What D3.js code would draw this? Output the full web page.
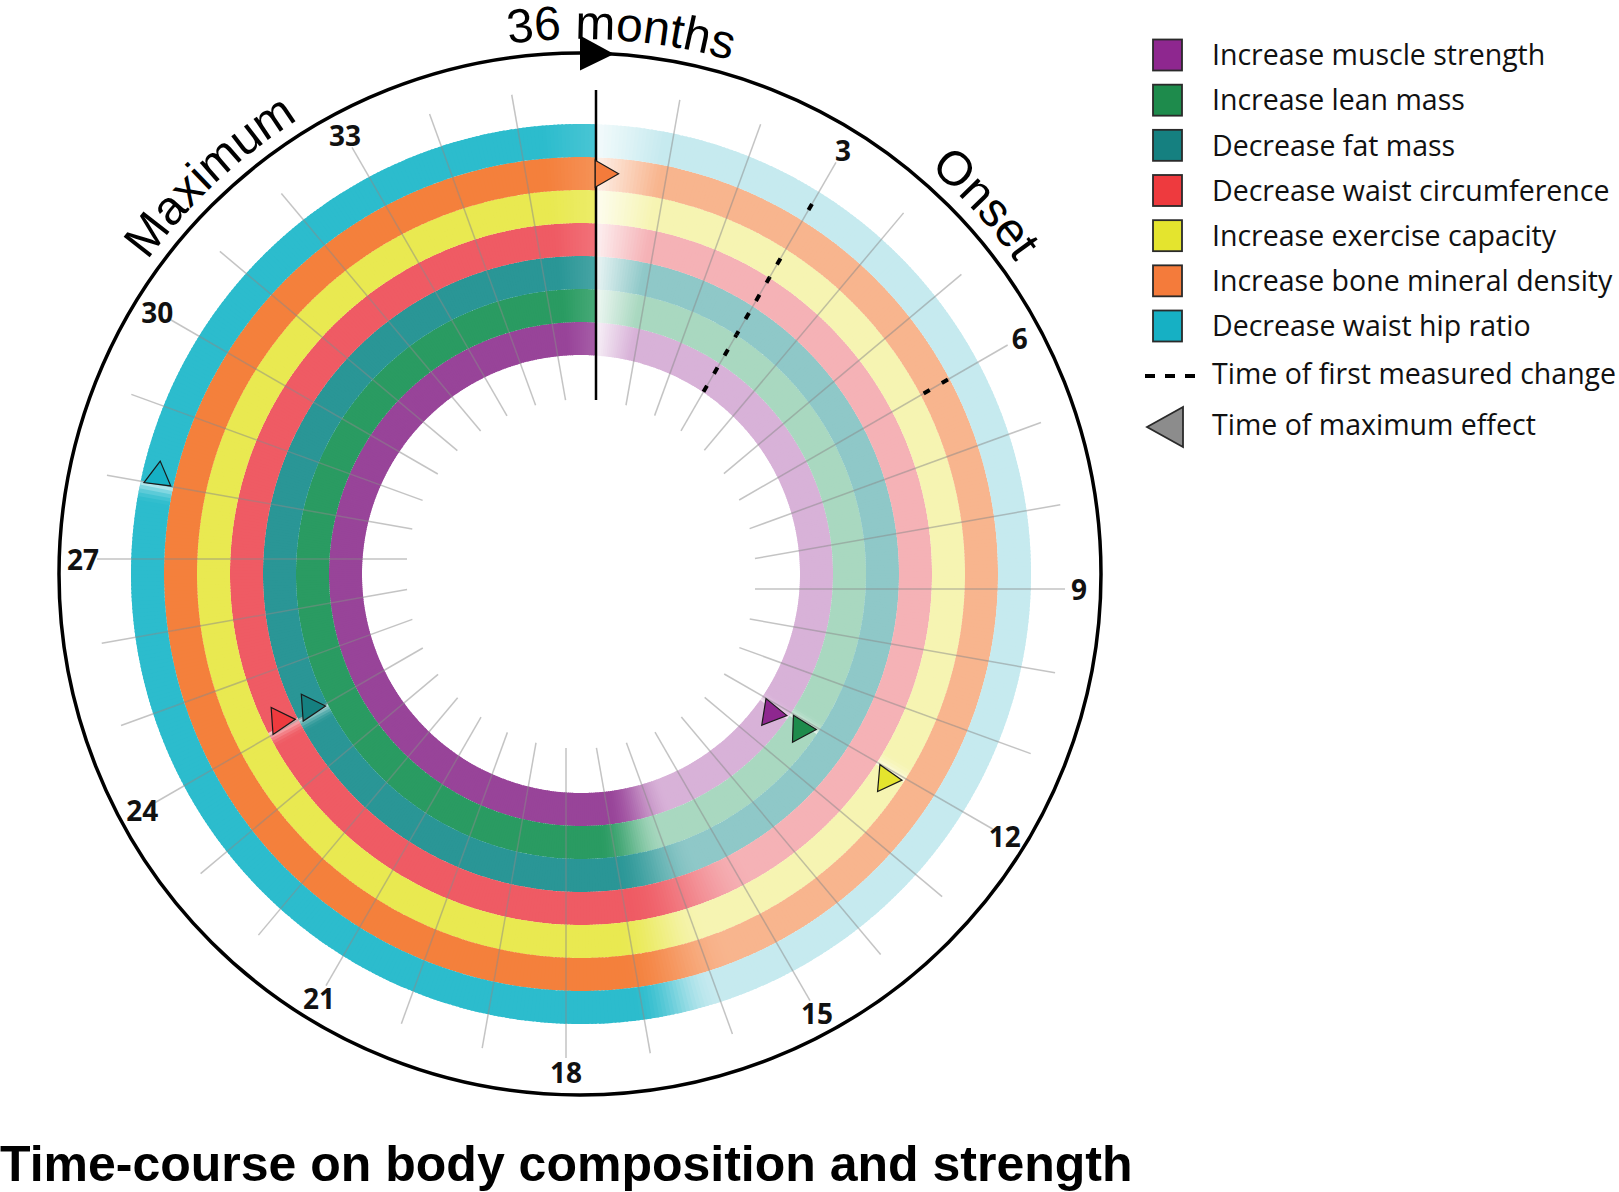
<!DOCTYPE html>
<html><head><meta charset="utf-8">
<script src="https://cdn.jsdelivr.net/npm/d3@7"></script>
<style>html,body{margin:0;padding:0;background:#fff;} svg{display:block}</style>
</head><body>
<svg id="chart" width="1619" height="1192"></svg>
<script>
// ---------------- data ----------------
const categories = ["Increase muscle strength","Increase lean mass","Decrease fat mass",
  "Decrease waist circumference","Increase exercise capacity","Increase bone mineral density",
  "Decrease waist hip ratio"];
const firstChangeMonth = [3, 3, 3, 3, 3, 6, 3];
const maxEffectMonth   = [12.25, 12.2, 24.1, 24.15, 12.15, 0.1, 28.1];
const transitionStart  = [15.5, 15.9, 15.5, 14.75, 15.8, 15.6, 16.0];
const transitionEnd    = [17.0, 17.3, 17.1, 16.95, 17.2, 17.2, 17.1];
const tickMonths  = d3.range(0, 36);
const labelMonths = [3, 6, 9, 12, 15, 18, 21, 24, 27, 30, 33];
const arcLabels      = ["36 months", "Onset", "Maximum"];
const arcLabelMonths = [0.42, 4.75, 31.7];
const legendExtra = ["Time of first measured change", "Time of maximum effect"];
const titleText = "Time-course on body composition and strength";

// ---------------- style ----------------
const fullColors   = ["#984499","#2a9b62","#2a9696","#ef5b64","#e9e951","#f4803c","#2cbccd"];
const lightColors  = ["#d8b2d8","#a9d8c0","#8fc8c8","#f5b2b6","#f6f4b2","#f8b58e","#c6eaef"];
const markerColors = ["#8e278f","#1e8b4c","#158080","#ee3a3e","#e4e42e","#f47b3b","#16b0c4"];
const markerRotation = [9, 2, -4, -4, 5, 0, -83];

const W = 1619, H = 1192;
const cx = 581, cy = 574;
const ringInner = 219, ringOuter = 450;
const tickInner = 174, tickOuter = 484, tickShift = 15;
const circleR = 521, labelR = 498, arcTextR = 535;

const svg = d3.select("#chart");
const angle = d3.scaleLinear().domain([0, 36]).range([0, 2 * Math.PI]);
const ring = d3.scaleBand().domain(d3.range(categories.length)).range([ringInner, ringOuter]).padding(0);

function pt(month, r, shift) {
  const a = angle(month);
  const s = shift || 0;
  return [cx + r * Math.sin(a) + s * Math.cos(a), cy - r * Math.cos(a) + s * Math.sin(a)];
}

function ringColor(i, m) {
  const light = lightColors[i], full = fullColors[i];
  let c;
  const fadeIn = 0.9;
  if (m < fadeIn) c = d3.interpolateRgb("#ffffff", light)(0.2 + 0.8 * m / fadeIn);
  else if (m < transitionStart[i]) c = light;
  else if (m < transitionEnd[i]) {
    const t = (m - transitionStart[i]) / (transitionEnd[i] - transitionStart[i]);
    c = d3.interpolateRgb(light, full)(t * t * (3 - 2 * t));
  } else if (m < 35.3) c = full;
  else c = d3.interpolateRgb(full, "#ffffff")(0.14 * (m - 35.3) / 0.7);
  const g1 = maxEffectMonth[i] - 0.08, g0 = maxEffectMonth[i] - 0.38;
  if (m > g0 && m < g1) {
    const w = 0.85 * Math.pow((m - g0) / (g1 - g0), 2);
    c = d3.interpolateRgb(c, "#ffffff")(w);
  }
  return c;
}

// ---------------- rings ----------------
const step = 0.05;
const segMonths = d3.range(0, 36, step);
const arcGen = d3.arc();
const gRings = svg.append("g").attr("transform", `translate(${cx},${cy})`);
categories.forEach((cat, i) => {
  const r0 = ring(i), r1 = ring(i) + ring.bandwidth();
  const rot = Math.asin(tickShift / ((r0 + r1) / 2));   // align ring start with the shifted month lines
  gRings.append("g").selectAll("path").data(segMonths).join("path")
    .attr("d", m => arcGen({innerRadius: r0, outerRadius: r1,
       startAngle: angle(m) + rot, endAngle: Math.min(angle(m + step) + 0.004, angle(36)) + rot}))
    .attr("fill", m => ringColor(i, m + step / 2));
});

// ---------------- tick lines ----------------
const gTicks = svg.append("g");
gTicks.selectAll("line").data(tickMonths).join("line")
  .attr("x1", m => pt(m, tickInner, tickShift)[0]).attr("y1", m => pt(m, tickInner, tickShift)[1])
  .attr("x2", m => pt(m, tickOuter, tickShift)[0]).attr("y2", m => pt(m, tickOuter, tickShift)[1])
  .attr("stroke", m => m === 0 ? "#000" : "#8a8a8a")
  .attr("stroke-opacity", m => m === 0 ? 1 : 0.5)
  .attr("stroke-width", m => m === 0 ? 2.5 : 1.5);

// ---------------- dashed first-change lines ----------------
const gDash = svg.append("g");
categories.forEach((cat, i) => {
  const r0 = ring(i), r1 = ring(i) + ring.bandwidth();
  const p0 = pt(firstChangeMonth[i], r0, tickShift), p1 = pt(firstChangeMonth[i], r1, tickShift);
  gDash.append("line")
    .attr("x1", p0[0]).attr("y1", p0[1]).attr("x2", p1[0]).attr("y2", p1[1])
    .attr("stroke", "#000").attr("stroke-width", 4)
    .attr("stroke-dasharray", "7,14")
    .attr("stroke-dashoffset", (r0 - ringInner) % 21);
});

// ---------------- maximum effect markers ----------------
const triS = 27, triH = triS * Math.sqrt(3) / 2;
const triPts = [[2 * triH / 3, 0], [-triH / 3, -triS / 2], [-triH / 3, triS / 2]];
const gMarkers = svg.append("g");
categories.forEach((cat, i) => {
  const p = pt(maxEffectMonth[i], ring(i) + ring.bandwidth() / 2, tickShift);
  gMarkers.append("polygon")
    .attr("points", triPts.map(d => d.join(",")).join(" "))
    .attr("transform", `translate(${p[0]},${p[1]}) rotate(${markerRotation[i]})`)
    .attr("fill", markerColors[i]).attr("stroke", "#1a1a1a").attr("stroke-width", 1.2)
    .attr("stroke-linejoin", "miter");
});

// ---------------- outer circle + arrow ----------------
svg.append("circle").attr("cx", cx - 1).attr("cy", cy).attr("r", circleR)
  .attr("fill", "none").attr("stroke", "#000").attr("stroke-width", 3.5);
svg.append("polygon")
  .attr("points", [[0, -circleR - 17.5], [0, -circleR + 17.5], [34, -circleR + 1]].map(d => d.join(",")).join(" "))
  .attr("transform", `translate(${cx - 1},${cy}) rotate(${angle(0) * 180 / Math.PI})`)
  .attr("fill", "#000");

// ---------------- month labels ----------------
svg.append("g").selectAll("text").data(labelMonths).join("text")
  .attr("x", m => pt(m, labelR, tickShift)[0]).attr("y", m => pt(m, labelR, tickShift)[1])
  .attr("text-anchor", "middle").attr("dominant-baseline", "central")
  .attr("font-family", "'Open Sans', sans-serif").attr("font-weight", 700).attr("font-size", 28)
  .attr("fill", "#111").text(m => m);

// ---------------- curved labels ----------------
const defs = svg.append("defs");
arcLabels.forEach((txt, k) => {
  const c = arcLabelMonths[k];
  const a = pt(c - 18, arcTextR), b = pt(c, arcTextR), e = pt(c + 18 - 0.001, arcTextR);
  defs.append("path").attr("id", "arcpath" + k)
    .attr("d", `M${a[0]},${a[1]} A${arcTextR},${arcTextR} 0 0 1 ${b[0]},${b[1]} A${arcTextR},${arcTextR} 0 0 1 ${e[0]},${e[1]}`);
  svg.append("text")
    .attr("font-family", "'Liberation Sans', Arial, sans-serif").attr("font-size", 48).attr("fill", "#000")
    .append("textPath").attr("href", "#arcpath" + k).attr("startOffset", "50%")
    .attr("text-anchor", "middle").text(txt);
});

// ---------------- legend ----------------
const legX = 1153, legTextX = 1212;
const legY = d3.scaleLinear().domain([0, 6]).range([55, 326]);
const legFont = 28.5;
const gLeg = svg.append("g");
categories.forEach((cat, i) => {
  gLeg.append("rect").attr("x", legX).attr("y", legY(i) - 15.5).attr("width", 29).attr("height", 31)
    .attr("fill", markerColors[i]).attr("stroke", "#2a2a2a").attr("stroke-width", 1.8);
  gLeg.append("text").attr("x", legTextX).attr("y", legY(i)).attr("dy", "0.36em")
    .attr("font-family", "'Open Sans', sans-serif").attr("font-size", legFont).attr("fill", "#111").text(cat);
});
gLeg.append("line").attr("x1", 1145).attr("x2", 1197).attr("y1", 376).attr("y2", 376)
  .attr("stroke", "#000").attr("stroke-width", 4).attr("stroke-dasharray", "10,10");
gLeg.append("text").attr("x", legTextX).attr("y", 374).attr("dy", "0.36em")
  .attr("font-family", "'Open Sans', sans-serif").attr("font-size", legFont).attr("fill", "#111").text(legendExtra[0]);
gLeg.append("polygon").attr("points", "1147,427 1183,407 1183,447")
  .attr("fill", "#8c8c8c").attr("stroke", "#2a2a2a").attr("stroke-width", 1.8);
gLeg.append("text").attr("x", legTextX).attr("y", 425).attr("dy", "0.36em")
  .attr("font-family", "'Open Sans', sans-serif").attr("font-size", legFont).attr("fill", "#111").text(legendExtra[1]);

// ---------------- title ----------------
svg.append("text").attr("x", 0).attr("y", 1181)
  .attr("font-family", "'Liberation Sans', Arial, sans-serif").attr("font-weight", 700).attr("font-size", 50)
  .attr("fill", "#000").text(titleText);
</script>
</body></html>
